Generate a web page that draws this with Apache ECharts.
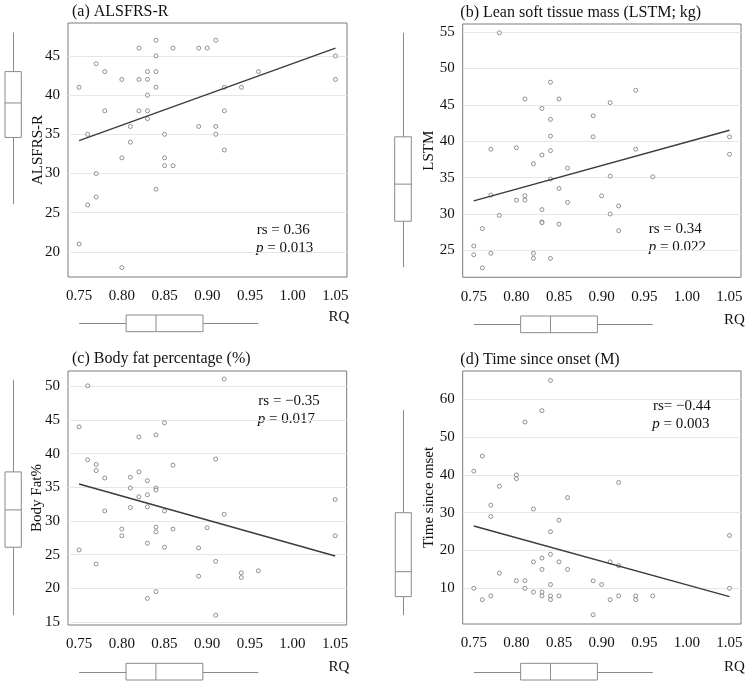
<!DOCTYPE html>
<html><head><meta charset="utf-8">
<script src="https://cdn.jsdelivr.net/npm/echarts@6/dist/echarts.min.js"></script>
<style>html,body{margin:0;padding:0;background:#fff}#c{width:755px;height:685px}</style>
</head><body><div id="c"></div>
<script>
// ---------- data ----------
const rqA = [0.75,0.75,0.76,0.76,0.77,0.77,0.77,0.78,0.78,0.80,0.80,0.80,0.81,0.81,0.82,0.82,0.82,0.83,0.83,0.83,0.83,0.83,0.84,0.84,0.84,0.84,0.84,0.85,0.85,0.85,0.86,0.86,0.89,0.89,0.90,0.91,0.91,0.91,0.92,0.92,0.92,0.94,0.96,1.05,1.05];
const alsfrs = [41,21,35,26,44,30,27,43,38,42,32,18,36,34,46,42,38,43,42,40,38,37,47,45,43,41,28,35,32,31,46,31,46,36,46,47,36,35,41,38,33,41,43,45,42];

const rqB = [0.75,0.75,0.76,0.76,0.77,0.77,0.77,0.78,0.78,0.80,0.80,0.81,0.81,0.81,0.82,0.82,0.82,0.83,0.83,0.83,0.83,0.83,0.84,0.84,0.84,0.84,0.84,0.84,0.85,0.85,0.85,0.86,0.86,0.89,0.89,0.90,0.91,0.91,0.91,0.92,0.92,0.94,0.94,0.96,1.05,1.05];
const lstm = [25.6,24.4,28.0,22.6,38.9,32.6,24.6,54.9,29.8,39.1,31.9,45.8,32.5,31.9,36.9,24.6,23.9,44.5,38.1,30.6,28.9,28.8,48.1,43.0,40.7,38.7,34.8,23.9,45.8,33.5,28.6,36.3,31.6,43.5,40.6,32.5,45.3,35.2,30.0,31.1,27.7,47.0,38.9,35.1,40.6,38.2];

const rqC = [0.75,0.75,0.76,0.76,0.77,0.77,0.77,0.78,0.78,0.80,0.80,0.81,0.81,0.81,0.82,0.82,0.82,0.83,0.83,0.83,0.83,0.83,0.84,0.84,0.84,0.84,0.84,0.84,0.85,0.85,0.85,0.86,0.86,0.89,0.89,0.90,0.91,0.91,0.91,0.92,0.92,0.94,0.94,0.96,1.05,1.05];
const bodyFat = [44.0,25.7,50.1,39.1,38.4,37.5,23.6,36.4,31.5,28.8,27.8,36.5,34.9,32.0,42.5,37.3,33.6,36.0,33.9,32.1,26.7,18.5,42.8,34.9,34.6,29.1,28.4,19.5,44.6,31.5,26.1,38.3,28.8,26.0,21.8,29.0,39.2,24.0,16.0,51.1,31.0,22.3,21.6,22.6,33.2,27.8];

const rqD = [0.75,0.75,0.76,0.76,0.77,0.77,0.77,0.78,0.78,0.80,0.80,0.80,0.81,0.81,0.81,0.82,0.82,0.82,0.83,0.83,0.83,0.83,0.83,0.84,0.84,0.84,0.84,0.84,0.84,0.85,0.85,0.85,0.86,0.86,0.89,0.89,0.90,0.91,0.91,0.92,0.92,0.92,0.94,0.94,0.96,1.05,1.05];
const onset = [41,10,45,7,32,29,8,37,14,40,39,12,54,12,10,31,17,9,57,18,15,9,8,65,25,19,11,8,7,28,17,8,34,15,12,3,11,17,7,38,16,8,8,7,8,24,10];

// fitted regression lines (values at RQ = 0.75 and 1.05)
const fitRq = [0.75, 1.05];
const fitA = [34.2, 46.0];
const fitB = [31.8, 41.5];
const fitC = [35.5, 24.8];
const fitD = [26.5, 7.8];

// marginal box plots: [lower whisker, Q1, median, Q3, upper whisker]
const boxRQ = [0.75, 0.805, 0.84, 0.895, 0.96];
const boxA = [26.1, 34.6, 39.0, 43.0, 48.0];
const boxB = [22.7, 29.0, 34.1, 40.6, 54.9];
const boxC = [16.0, 26.1, 31.65, 37.3, 51.0];
const boxD = [2.9, 7.8, 14.4, 30.0, 57.2];

const titles = ['(a) ALSFRS-R', '(b) Lean soft tissue mass (LSTM; kg)', '(c) Body fat percentage (%)', '(d) Time since onset (M)'];
const yNames = ['ALSFRS-R', 'LSTM', 'Body Fat%', 'Time since onset'];
const rsText = ['rs = 0.36', 'rs = 0.34', 'rs = \u22120.35', 'rs= \u22120.44'];
const pText = ['0.013', '0.022', '0.017', '0.003'];
const xName = 'RQ';

// ---------- layout ----------
const FONT = "'Liberation Serif','Times New Roman',serif";
const X_MIN = 0.737, X_MAX = 1.0635;
const panels = [
  {rq: rqA, val: alsfrs, fit: fitA, box: boxA, yMin: 16.8, yMax: 49.2, step: 5,
   grid: {left: 68, top: 23, width: 279, height: 254}, lbox: {left: 5, width: 16.3}, bbox: {top: 315, height: 16.7},
   nameGap: 22.5, title: [72, 11.5], rq_: [339, 316.7], rs: [256.7, 230], p: [256, 248.3]},
  {rq: rqB, val: lstm, fit: fitB, box: boxB, yMin: 21.3, yMax: 56.1, step: 5,
   grid: {left: 462.7, top: 24, width: 278.3, height: 253.3}, lbox: {left: 394.7, width: 16.6}, bbox: {top: 316, height: 16.7},
   nameGap: 26.5, title: [460.3, 12.7], rq_: [734.5, 320], rs: [648.7, 229.3], p: [648.7, 246.7]},
  {rq: rqC, val: bodyFat, fit: fitC, box: boxC, yMin: 14.54, yMax: 52.3, step: 5,
   grid: {left: 68, top: 371, width: 278.7, height: 254}, lbox: {left: 5, width: 16.3}, bbox: {top: 663.3, height: 16.7},
   nameGap: 23, title: [72, 359], rq_: [339, 666.7], rs: [258.3, 400.7], p: [257.7, 419.3]},
  {rq: rqD, val: onset, fit: fitD, box: boxD, yMin: 0.56, yMax: 67.5, step: 10,
   grid: {left: 462.7, top: 371, width: 278.3, height: 253}, lbox: {left: 395.3, width: 16}, bbox: {top: 663.3, height: 16.7},
   nameGap: 26.5, title: [460.3, 360], rq_: [734.5, 667.3], rs: [653, 406], p: [652.3, 424]}
];

const BOX_STROKE = '#8a8a8a';
const isMult = (v, s) => Math.abs(v / s - Math.round(v / s)) < 1e-6;

const grids = [], xAxes = [], yAxes = [], series = [], graphics = [];
panels.forEach((P, i) => {
  const g = P.grid;
  grids.push({left: g.left, top: g.top, width: g.width, height: g.height, show: true,
    borderColor: '#7a7a7a', borderWidth: 1, backgroundColor: 'transparent'});
  grids.push({left: P.lbox.left, width: P.lbox.width, top: g.top, height: g.height});
  grids.push({left: g.left, width: g.width, top: P.bbox.top, height: P.bbox.height});
  const gi = i * 3;
  // main axes
  xAxes.push({type: 'value', gridIndex: gi, min: X_MIN, max: X_MAX, splitNumber: 6,
    minInterval: 0.05, maxInterval: 0.05,
    axisLine: {show: false}, axisTick: {show: false}, splitLine: {show: false},
    axisLabel: {fontSize: 15, fontFamily: FONT, color: '#111', margin: 12,
      formatter: v => isMult(v, 0.05) ? v.toFixed(2) : ''}});
  yAxes.push({type: 'value', gridIndex: gi, min: P.yMin, max: P.yMax, splitNumber: 6,
    minInterval: P.step, maxInterval: P.step,
    axisLine: {show: false}, axisTick: {show: false},
    splitLine: {show: true, showMinLine: false, showMaxLine: false, lineStyle: {color: '#e6e6e6', width: 1}},
    axisLabel: {fontSize: 15, fontFamily: FONT, color: '#111', margin: 8,
      formatter: v => isMult(v, P.step) ? String(Math.round(v)) : ''},
    name: yNames[i], nameLocation: 'middle', nameGap: P.nameGap, nameMoveOverlap: false,
    nameTextStyle: {fontSize: 15, fontFamily: FONT, color: '#111'}});
  // left box axes
  xAxes.push({type: 'value', gridIndex: gi + 1, min: 0, max: 1, show: false});
  yAxes.push({type: 'value', gridIndex: gi + 1, min: P.yMin, max: P.yMax, show: false});
  // bottom box axes
  xAxes.push({type: 'value', gridIndex: gi + 2, min: X_MIN, max: X_MAX, show: false});
  yAxes.push({type: 'value', gridIndex: gi + 2, min: 0, max: 1, show: false});

  series.push({type: 'scatter', xAxisIndex: gi, yAxisIndex: gi, silent: true,
    data: P.rq.map((x, k) => [x, P.val[k]]), symbol: 'circle', symbolSize: 4,
    itemStyle: {color: '#ffffff', borderColor: '#777', borderWidth: 1}, z: 3});
  series.push({type: 'line', xAxisIndex: gi, yAxisIndex: gi, silent: true,
    data: fitRq.map((x, k) => [x, P.fit[k]]), showSymbol: false, symbol: 'none',
    lineStyle: {color: '#3c3c3c', width: 1.5}, z: 4});
  // vertical (left) box plot
  series.push({type: 'custom', xAxisIndex: gi + 1, yAxisIndex: gi + 1, silent: true,
    data: [P.box],
    renderItem: (params, api) => {
      const s = [0, 1, 2, 3, 4].map(k => api.value(k));
      const xl = api.coord([0, s[0]])[0], xr = api.coord([1, s[0]])[0], xm = Math.round((xl + xr) / 2) + 0.5;
      const y = s.map(v => api.coord([0.5, v])[1]);
      return {type: 'group', children: [
        {type: 'line', shape: {x1: xm, y1: y[0], x2: xm, y2: y[4]}, style: {stroke: BOX_STROKE, lineWidth: 1}},
        {type: 'rect', shape: {x: xl, y: y[3], width: xr - xl, height: y[1] - y[3]}, style: {fill: '#fff', stroke: BOX_STROKE, lineWidth: 1}},
        {type: 'line', shape: {x1: xl, y1: y[2], x2: xr, y2: y[2]}, style: {stroke: BOX_STROKE, lineWidth: 1}}
      ]};
    }});
  // horizontal (bottom) box plot
  series.push({type: 'custom', xAxisIndex: gi + 2, yAxisIndex: gi + 2, silent: true,
    data: [boxRQ],
    renderItem: (params, api) => {
      const s = [0, 1, 2, 3, 4].map(k => api.value(k));
      const yt = api.coord([s[0], 1])[1], yb = api.coord([s[0], 0])[1], ym = Math.round((yt + yb) / 2) + 0.5;
      const x = s.map(v => api.coord([v, 0.5])[0]);
      return {type: 'group', children: [
        {type: 'line', shape: {x1: x[0], y1: ym, x2: x[4], y2: ym}, style: {stroke: BOX_STROKE, lineWidth: 1}},
        {type: 'rect', shape: {x: x[1], y: yt, width: x[3] - x[1], height: yb - yt}, style: {fill: '#fff', stroke: BOX_STROKE, lineWidth: 1}},
        {type: 'line', shape: {x1: x[2], y1: yt, x2: x[2], y2: yb}, style: {stroke: BOX_STROKE, lineWidth: 1}}
      ]};
    }});

  graphics.push({type: 'text', x: P.title[0], y: P.title[1],
    style: {text: titles[i], fontSize: 16, fontFamily: FONT, fill: '#111', align: 'left', verticalAlign: 'middle'}});
  graphics.push({type: 'text', x: P.rq_[0], y: P.rq_[1],
    style: {text: xName, fontSize: 15, fontFamily: FONT, fill: '#111', align: 'center', verticalAlign: 'middle'}});
  graphics.push({type: 'text', x: P.rs[0], y: P.rs[1],
    style: {text: rsText[i], fontSize: 15, fontFamily: FONT, fill: '#111', align: 'left', verticalAlign: 'middle'}});
  graphics.push({type: 'text', x: P.p[0], y: P.p[1],
    style: {text: '{i|p} = ' + pText[i], fontSize: 15, fontFamily: FONT, fill: '#111', align: 'left', verticalAlign: 'middle',
      rich: {i: {fontStyle: 'italic', fontSize: 15, fontFamily: FONT, fill: '#111'}}}});
});

const chart = echarts.init(document.getElementById('c'), null, {renderer: 'canvas'});
chart.setOption({
  animation: false,
  backgroundColor: '#ffffff',
  grid: grids, xAxis: xAxes, yAxis: yAxes, series: series, graphic: graphics
});
</script>
</body></html>
